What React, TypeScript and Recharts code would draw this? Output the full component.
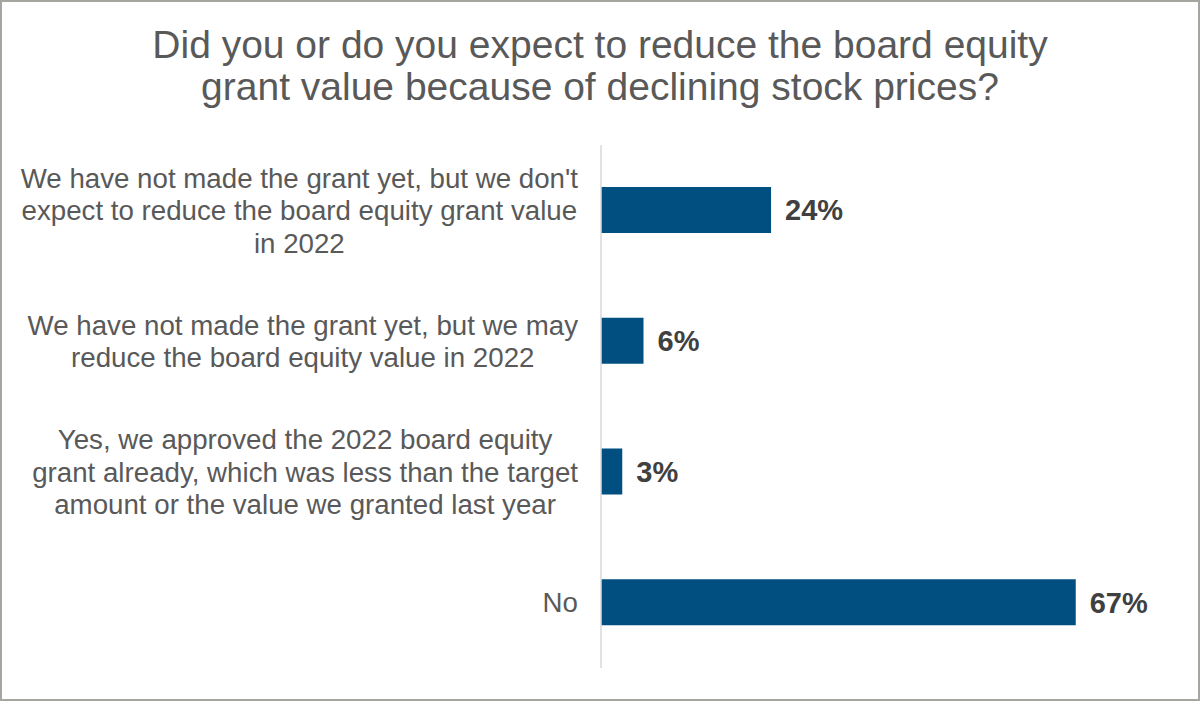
import React from 'react';
import { BarChart, Bar, XAxis, YAxis, LabelList } from 'recharts';

const categories = [
  "We have not made the grant yet, but we don't expect to reduce the board equity grant value in 2022",
  'We have not made the grant yet, but we may reduce the board equity value in 2022',
  'Yes, we approved the 2022 board equity grant already, which was less than the target amount or the value we granted last year',
  'No',
];
const values = [24, 6, 3, 67];
const titleLines = [
  'Did you or do you expect to reduce the board equity',
  'grant value because of declining stock prices?',
];

const FONT = '"Liberation Sans", Arial, sans-serif';
const LABEL_SIZE = 27.7;
const WRAP_WIDTH = 563;
const LINE_HEIGHT = 32.5;

let ctx: CanvasRenderingContext2D | null = null;
function measure(text: string, font: string) {
  if (!ctx) ctx = document.createElement('canvas').getContext('2d');
  ctx!.font = font;
  return ctx!.measureText(text).width;
}

function wrap(text: string, maxWidth: number, font: string) {
  const words = text.split(' ');
  const lines: string[] = [];
  let cur = '';
  for (const w of words) {
    const t = cur ? cur + ' ' + w : w;
    if (cur && measure(t, font) > maxWidth) {
      lines.push(cur);
      cur = w;
    } else cur = t;
  }
  if (cur) lines.push(cur);
  return lines;
}

// right edge of the block sits at x, lines are centred inside the block
function CategoryTick({ x, y, payload }: any) {
  const font = `${LABEL_SIZE}px ${FONT}`;
  const lines = wrap(String(payload.value), WRAP_WIDTH, font);
  const block = Math.max(...lines.map((l) => measure(l, font)));
  const cx = x - block / 2;
  const top = y - ((lines.length - 1) * LINE_HEIGHT) / 2;
  return (
    <text textAnchor="middle" fill="#595959" fontSize={LABEL_SIZE} fontFamily={FONT}>
      {lines.map((l, i) => (
        <tspan key={i} x={cx} y={top + i * LINE_HEIGHT} dy="0.35em">
          {l}
        </tspan>
      ))}
    </text>
  );
}

export default function App() {
  const data = categories.map((c, i) => ({ category: c, value: values[i] }));

  return (
    <div style={{ position: 'absolute', left: 0, top: 0, width: 1200, height: 701, background: '#fff', fontFamily: FONT }}>
      <div
        style={{
          position: 'absolute',
          top: 24,
          left: 0,
          width: 1200,
          textAlign: 'center',
          fontSize: 39,
          lineHeight: '42px',
          color: '#595959',
        }}
      >
        {titleLines.map((t) => (
          <div key={t}>{t}</div>
        ))}
      </div>
      <div style={{ position: 'absolute', left: 0, top: 0 }}>
        <BarChart
          width={1200}
          height={701}
          data={data}
          layout="vertical"
          margin={{ top: 145, right: 103, bottom: 33, left: 0 }}
        >
          <XAxis type="number" domain={[0, 70]} hide />
          <YAxis
            type="category"
            dataKey="category"
            width={601}
            axisLine={{ stroke: '#D9D9D9', strokeWidth: 1.5 }}
            tickLine={false}
            tickSize={0}
            tickMargin={23}
            interval={0}
            tick={<CategoryTick />}
          />
          <Bar dataKey="value" fill="#004F80" barSize={46} isAnimationActive={false}>
            <LabelList
              dataKey="value"
              position="right"
              offset={14}
              formatter={(v: any) => `${v}%`}
              fill="#404040"
              fontSize={29}
              fontWeight="bold"
              fontFamily={FONT}
            />
          </Bar>
        </BarChart>
      </div>
      <div
        style={{
          position: 'absolute',
          inset: 0,
          border: '2px solid #A6A6A0',
          boxSizing: 'border-box',
          pointerEvents: 'none',
        }}
      />
    </div>
  );
}
